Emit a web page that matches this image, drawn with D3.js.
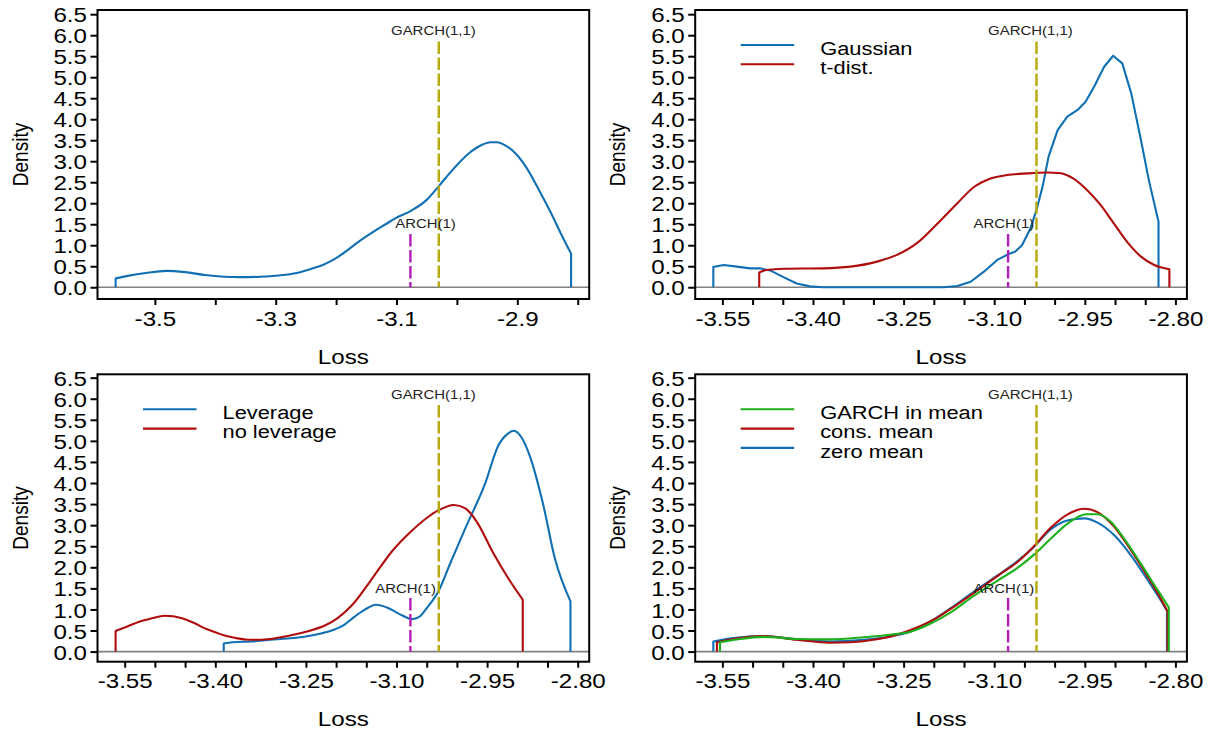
<!DOCTYPE html>
<html><head><meta charset="utf-8">
<script src="https://cdn.jsdelivr.net/npm/d3@7"></script>
<style>
body{margin:0;background:#fff}
svg{display:block}
text{font-family:"Liberation Sans",Arial,Helvetica,sans-serif;fill:#000}
</style>
</head><body>
<svg id="chart" width="1216" height="733"></svg>
<script>
// ---------------- data ----------------
const xDomain = [-3.595, -2.781];
const yTicks = [0, 0.5, 1, 1.5, 2, 2.5, 3, 3.5, 4, 4.5, 5, 5.5, 6, 6.5];
const xTicksA = [-3.5, -3.4, -3.3, -3.2, -3.1, -3.0, -2.9, -2.8];
const xLabelsA = [-3.5, -3.3, -3.1, -2.9];
const xTicksB = [-3.55, -3.50, -3.45, -3.40, -3.35, -3.30, -3.25, -3.20, -3.15, -3.10, -3.05, -3.00, -2.95, -2.90, -2.85, -2.80];
const xLabelsB = [-3.55, -3.40, -3.25, -3.10, -2.95, -2.80];

const archX = -3.077, archTop = 1.27;
const garchX = -3.030, garchTop = 5.85;
const archLabelX = [-3.052, -3.084, -3.085, -3.084];
const garchLabelX = [-3.039, -3.040, -3.039, -3.040];
const archLabelY = 1.40, garchLabelY = 6.0;

// panel 1: single density
const p1Blue = [[-3.565,0.21],[-3.545,0.27],[-3.515,0.34],[-3.481,0.39],[-3.450,0.36],[-3.417,0.29],[-3.385,0.25],[-3.359,0.24],[-3.325,0.25],[-3.295,0.28],[-3.265,0.34],[-3.243,0.43],[-3.222,0.53],[-3.205,0.65],[-3.185,0.84],[-3.166,1.05],[-3.150,1.21],[-3.134,1.36],[-3.118,1.50],[-3.102,1.64],[-3.076,1.82],[-3.050,2.08],[-3.031,2.39],[-3.005,2.83],[-2.980,3.19],[-2.960,3.38],[-2.944,3.45],[-2.934,3.45],[-2.918,3.36],[-2.902,3.17],[-2.886,2.87],[-2.864,2.31],[-2.844,1.76],[-2.828,1.28],[-2.811,0.80]];

// panel 2: Gaussian vs t-dist.
const p2Gauss = [[-3.565,0.48],[-3.548,0.53],[-3.526,0.49],[-3.504,0.45],[-3.488,0.45],[-3.471,0.40],[-3.449,0.24],[-3.427,0.09],[-3.405,0.02],[-3.383,0.0],[-3.184,0.0],[-3.161,0.03],[-3.139,0.13],[-3.117,0.37],[-3.095,0.65],[-3.076,0.79],[-3.065,0.85],[-3.054,1.0],[-3.040,1.40],[-3.030,1.84],[-3.020,2.39],[-3.010,3.11],[-2.995,3.74],[-2.979,4.06],[-2.962,4.22],[-2.949,4.41],[-2.934,4.79],[-2.918,5.25],[-2.903,5.51],[-2.888,5.33],[-2.873,4.61],[-2.857,3.50],[-2.844,2.55],[-2.828,1.56]];
const p2T = [[-3.489,0.35],[-3.477,0.41],[-3.449,0.44],[-3.383,0.45],[-3.338,0.49],[-3.294,0.61],[-3.261,0.77],[-3.228,1.05],[-3.195,1.50],[-3.161,2.0],[-3.134,2.38],[-3.106,2.59],[-3.079,2.67],[-3.045,2.71],[-3.012,2.73],[-2.993,2.72],[-2.968,2.58],[-2.946,2.31],[-2.924,1.96],[-2.902,1.52],[-2.880,1.08],[-2.857,0.73],[-2.835,0.53],[-2.810,0.43]];

// panel 3: Leverage vs no leverage
const p3Lev = [[-3.386,0.19],[-3.372,0.22],[-3.340,0.24],[-3.308,0.28],[-3.280,0.31],[-3.250,0.36],[-3.225,0.43],[-3.205,0.51],[-3.188,0.62],[-3.173,0.79],[-3.153,0.99],[-3.134,1.11],[-3.115,1.04],[-3.095,0.89],[-3.073,0.77],[-3.060,0.85],[-3.050,1.03],[-3.031,1.42],[-3.012,2.06],[-2.986,2.93],[-2.954,3.96],[-2.931,4.90],[-2.915,5.18],[-2.906,5.24],[-2.893,5.08],[-2.880,4.67],[-2.857,3.48],[-2.838,2.22],[-2.812,1.19]];
const p3NoLev = [[-3.565,0.49],[-3.545,0.60],[-3.526,0.71],[-3.505,0.79],[-3.484,0.85],[-3.470,0.84],[-3.455,0.79],[-3.435,0.68],[-3.417,0.55],[-3.400,0.46],[-3.385,0.38],[-3.365,0.32],[-3.346,0.28],[-3.325,0.28],[-3.308,0.30],[-3.280,0.37],[-3.250,0.47],[-3.217,0.63],[-3.198,0.79],[-3.173,1.11],[-3.140,1.74],[-3.108,2.37],[-3.076,2.85],[-3.050,3.17],[-3.031,3.35],[-3.005,3.48],[-2.986,3.40],[-2.967,3.08],[-2.941,2.37],[-2.915,1.74],[-2.891,1.23]];

// panel 4: mean specifications
const p4Zero = [[-3.565,0.24],[-3.532,0.32],[-3.482,0.37],[-3.427,0.29],[-3.372,0.24],[-3.316,0.28],[-3.272,0.36],[-3.239,0.47],[-3.206,0.71],[-3.172,1.03],[-3.134,1.42],[-3.095,1.80],[-3.062,2.14],[-3.034,2.49],[-3.007,2.89],[-2.979,3.11],[-2.951,3.16],[-2.929,3.06],[-2.902,2.77],[-2.874,2.29],[-2.846,1.70],[-2.830,1.35],[-2.814,0.97]];
const p4Cons = [[-3.559,0.22],[-3.532,0.30],[-3.482,0.37],[-3.427,0.28],[-3.372,0.21],[-3.339,0.22],[-3.300,0.28],[-3.261,0.40],[-3.228,0.57],[-3.195,0.80],[-3.161,1.12],[-3.123,1.50],[-3.090,1.84],[-3.062,2.12],[-3.034,2.50],[-3.007,2.93],[-2.979,3.25],[-2.951,3.39],[-2.929,3.31],[-2.902,2.97],[-2.874,2.41],[-2.846,1.78],[-2.830,1.40],[-2.813,0.95]];
const p4Gim = [[-3.554,0.22],[-3.521,0.30],[-3.482,0.35],[-3.427,0.30],[-3.372,0.29],[-3.316,0.34],[-3.272,0.40],[-3.239,0.47],[-3.206,0.66],[-3.172,0.93],[-3.134,1.32],[-3.095,1.68],[-3.062,1.98],[-3.034,2.30],[-3.007,2.67],[-2.979,3.03],[-2.948,3.26],[-2.929,3.26],[-2.907,3.08],[-2.885,2.68],[-2.857,2.08],[-2.830,1.47],[-2.811,1.05]];

// ---------------- style ----------------
const BLUE = "#1070b3", RED = "#b00c0c", GREEN = "#1cb01c", OLIVE = "#b5a90a", MAGENTA = "#b11fb9";
const SX = 1.15;
const BOXW = 491.7;

const panels = [
  {left: 97.5,  top: 10,    bottom: 299,   yDom: [-0.28, 6.6],  ticks: xTicksA, labels: xLabelsA, dec: 1,
   series: [{d: p1Blue, c: BLUE, smooth: true}], legend: []},
  {left: 695.2, top: 10,    bottom: 299,   yDom: [-0.28, 6.6],  ticks: xTicksB, labels: xLabelsB, dec: 2,
   series: [{d: p2Gauss, c: BLUE, smooth: false}, {d: p2T, c: RED, smooth: true}],
   legend: [{t: "Gaussian", c: BLUE}, {t: "t-dist.", c: RED}]},
  {left: 97.5,  top: 374.3, bottom: 661.7, yDom: [-0.24, 6.58], ticks: xTicksB, labels: xLabelsB, dec: 2,
   series: [{d: p3Lev, c: BLUE, smooth: true}, {d: p3NoLev, c: RED, smooth: true}],
   legend: [{t: "Leverage", c: BLUE}, {t: "no leverage", c: RED}]},
  {left: 695.2, top: 374.3, bottom: 661.7, yDom: [-0.24, 6.58], ticks: xTicksB, labels: xLabelsB, dec: 2,
   series: [{d: p4Zero, c: BLUE, smooth: true}, {d: p4Cons, c: RED, smooth: true}, {d: p4Gim, c: GREEN, smooth: true}],
   legend: [{t: "GARCH in mean", c: GREEN}, {t: "cons. mean", c: RED}, {t: "zero mean", c: BLUE}]}
];

const svg = d3.select("#chart");

function stretchText(sel, x, y, anchor, size, rotate) {
  sel.attr("x", 0).attr("y", 0).attr("dy", null)
     .attr("text-anchor", anchor)
     .style("font-size", size + "px")
     .attr("transform", `translate(${x},${y}) scale(${SX},1)` + (rotate ? " rotate(-90)" : ""));
}

panels.forEach((p, i) => {
  const x = d3.scaleLinear().domain(xDomain).range([p.left, p.left + BOXW]);
  const y = d3.scaleLinear().domain(p.yDom).range([p.bottom, p.top]);
  const g = svg.append("g");

  // zero reference line
  g.append("line").attr("x1", p.left).attr("x2", p.left + BOXW)
    .attr("y1", y(0)).attr("y2", y(0)).attr("stroke", "#808080").attr("stroke-width", 1.6);

  // density curves
  p.series.forEach(s => {
    const inner = d3.line().x(d => x(d[0])).y(d => y(d[1]))
      .curve(s.smooth ? d3.curveMonotoneX : d3.curveLinear)(s.d);
    const first = s.d[0], last = s.d[s.d.length - 1];
    const path = `M${x(first[0])},${y(0)}L` + inner.slice(1) + `L${x(last[0])},${y(0)}`;
    g.append("path").attr("d", path).attr("fill", "none").attr("stroke", s.c)
      .attr("stroke-width", 2.1).attr("stroke-linejoin", "round");
  });

  // reference lines
  g.append("line").attr("x1", x(garchX)).attr("x2", x(garchX)).attr("y1", y(garchTop)).attr("y2", y(0))
    .attr("stroke", OLIVE).attr("stroke-width", 2.4).attr("stroke-dasharray", "12.5,3.5");
  g.append("line").attr("x1", x(archX)).attr("x2", x(archX)).attr("y1", y(archTop)).attr("y2", y(0))
    .attr("stroke", MAGENTA).attr("stroke-width", 2.4).attr("stroke-dasharray", "12.5,3.5");
  g.append("text").text("GARCH(1,1)").style("fill", "#222")
    .call(stretchText, x(garchLabelX[i]), y(garchLabelY), "middle", 13);
  g.append("text").text("ARCH(1)").style("fill", "#222")
    .call(stretchText, x(archLabelX[i]), y(archLabelY), "middle", 13);

  // legend
  p.legend.forEach((l, k) => {
    const ly = p.top + 35 + k * 19.3;
    g.append("line").attr("x1", p.left + 45.5).attr("x2", p.left + 99)
      .attr("y1", ly).attr("y2", ly).attr("stroke", l.c).attr("stroke-width", 2.1);
    g.append("text").text(l.t).call(stretchText, p.left + 125, ly + 9.8, "start", 19);
  });

  // y axis
  const ya = g.append("g").attr("transform", `translate(${p.left},0)`)
    .call(d3.axisLeft(y).tickValues(yTicks).tickSize(7).tickFormat(d => d.toFixed(1)));
  ya.select(".domain").remove();
  ya.selectAll(".tick line").attr("stroke", "#000").attr("stroke-width", 2);
  ya.selectAll(".tick text").each(function() {
    d3.select(this).call(stretchText, -10.5, 0, "end", 21).attr("dy", "0.36em");
  });

  // x axis
  const xa = g.append("g").attr("transform", `translate(0,${p.bottom})`)
    .call(d3.axisBottom(x).tickValues(p.ticks).tickSize(6)
      .tickFormat(d => p.labels.some(v => Math.abs(v - d) < 1e-9) ? d.toFixed(p.dec) : ""));
  xa.select(".domain").remove();
  xa.selectAll(".tick line").attr("stroke", "#000").attr("stroke-width", 2);
  xa.selectAll(".tick text").each(function() {
    d3.select(this).call(stretchText, 0, 26.5, "middle", 21);
  });

  // box
  g.append("rect").attr("x", p.left).attr("y", p.top).attr("width", BOXW).attr("height", p.bottom - p.top)
    .attr("fill", "none").attr("stroke", "#000").attr("stroke-width", 2);

  // axis titles
  g.append("text").text("Loss").call(stretchText, p.left + BOXW / 2, p.bottom + 64.5, "middle", 21);
  g.append("text").text("Density").call(stretchText, p.left - 70, (p.top + p.bottom) / 2, "middle", 19, true);
});
</script>
</body></html>
